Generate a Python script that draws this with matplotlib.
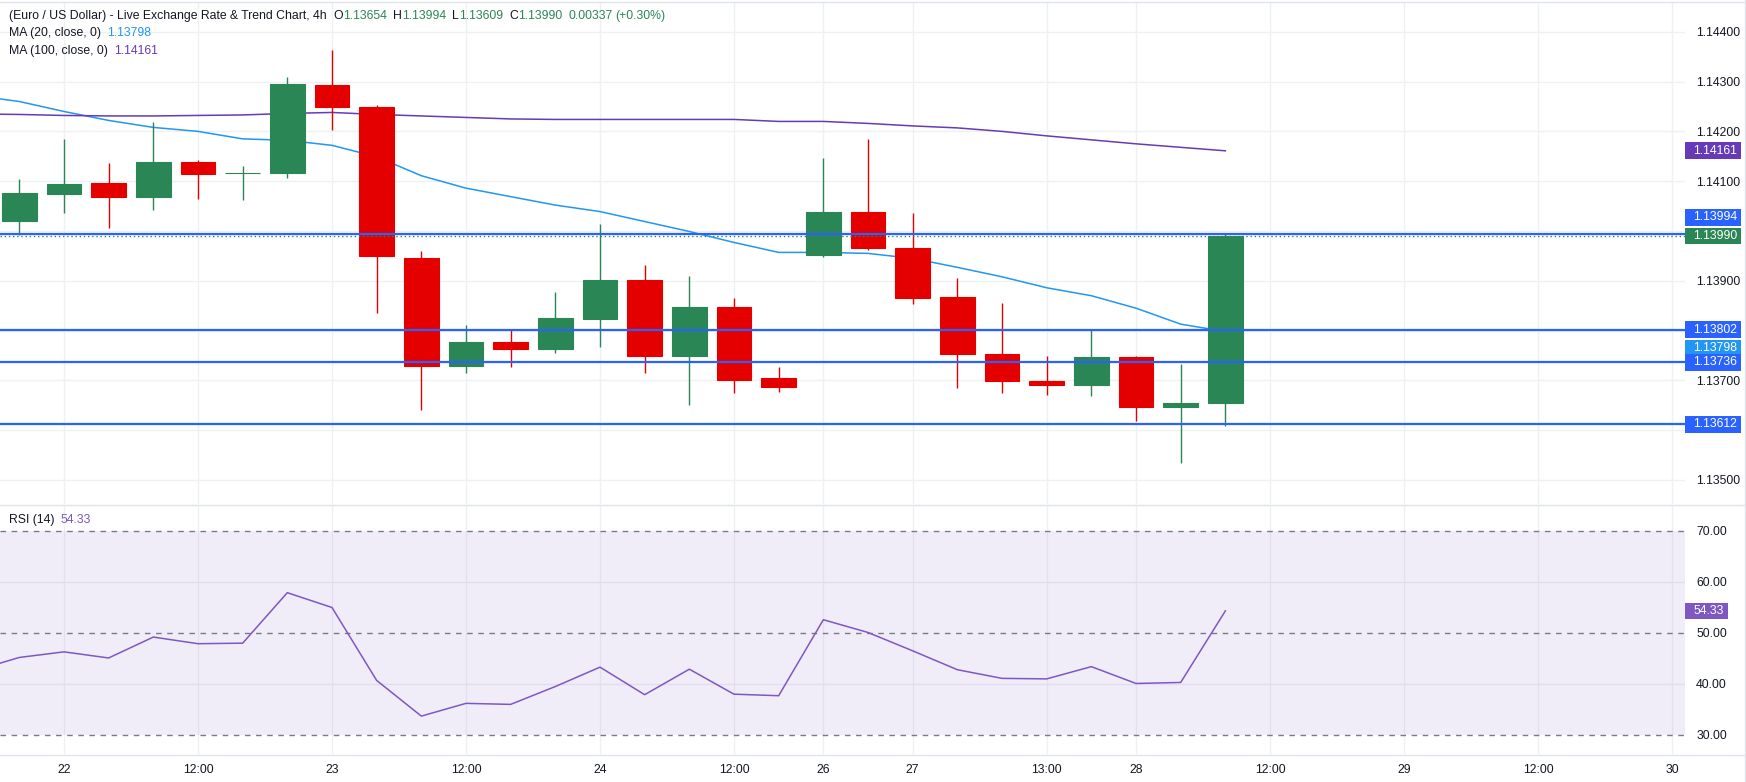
import numpy as np
import matplotlib
matplotlib.use("Agg")
import matplotlib.pyplot as plt
from matplotlib.patches import Rectangle
from matplotlib.lines import Line2D

plt.rcParams['font.family'] = ['Liberation Sans', 'DejaVu Sans']

# ---- data ------------------------------------------------------------------
opens  = [1.14021, 1.14075, 1.14096, 1.14069, 1.14139, 1.14116, 1.14117, 1.14293, 1.14249, 1.13946,
          1.13728, 1.13777, 1.13764, 1.13824, 1.13902, 1.13748, 1.13847, 1.13705, 1.13951, 1.14038,
          1.13966, 1.13868, 1.13753, 1.13699, 1.13691, 1.13747, 1.13647, 1.13654]
highs  = [1.14104, 1.14185, 1.14137, 1.14219, 1.14143, 1.14131, 1.14309, 1.14364, 1.14253, 1.13960,
          1.13811, 1.13804, 1.13878, 1.14014, 1.13932, 1.13910, 1.13866, 1.13727, 1.14147, 1.14185,
          1.14036, 1.13906, 1.13855, 1.13749, 1.13803, 1.13748, 1.13733, 1.13994]
lows   = [1.13992, 1.14037, 1.14007, 1.14043, 1.14065, 1.14063, 1.14107, 1.14202, 1.13836, 1.13641,
          1.13714, 1.13726, 1.13754, 1.13768, 1.13714, 1.13651, 1.13675, 1.13677, 1.13948, 1.13962,
          1.13854, 1.13685, 1.13675, 1.13671, 1.13669, 1.13619, 1.13535, 1.13609]
closes = [1.14076, 1.14094, 1.14069, 1.14139, 1.14115, 1.14117, 1.14295, 1.14248, 1.13949, 1.13728,
          1.13777, 1.13764, 1.13825, 1.13902, 1.13748, 1.13847, 1.13700, 1.13687, 1.14038, 1.13965,
          1.13866, 1.13752, 1.13698, 1.13691, 1.13747, 1.13647, 1.13655, 1.13990]

# indicator values start one bar before the first visible candle (index -1)
ma20  = [1.14272, 1.14260, 1.14240, 1.14222, 1.14208, 1.14200, 1.14185, 1.14182, 1.14172, 1.14149,
         1.14111, 1.14086, 1.14069, 1.14052, 1.14039, 1.14019, 1.13999, 1.13977, 1.13957, 1.13957,
         1.13955, 1.13945, 1.13927, 1.13908, 1.13886, 1.13870, 1.13845, 1.13813, 1.13798]
ma100 = [1.14235, 1.14234, 1.14232, 1.14231, 1.14231, 1.14232, 1.14233, 1.14236, 1.14238, 1.14234,
         1.14231, 1.14228, 1.14225, 1.14224, 1.14224, 1.14224, 1.14224, 1.14224, 1.14220, 1.14220,
         1.14216, 1.14211, 1.14207, 1.14200, 1.14191, 1.14183, 1.14175, 1.14168, 1.14161]
rsi   = [42.6, 45.2, 46.3, 45.1, 49.2, 47.9, 48.0, 57.9, 55.0, 40.7, 33.7, 36.2, 36.0, 39.5, 43.3,
         37.9, 42.9, 38.0, 37.7, 52.6, 50.1, 46.5, 42.8, 41.1, 41.0, 43.4, 40.1, 40.3, 54.33]

levels       = [1.13994, 1.13802, 1.13736, 1.13612]
last_close   = 1.13990
price_grid   = [1.135, 1.136, 1.137, 1.138, 1.139, 1.140, 1.141, 1.142, 1.143, 1.144]
price_ticks  = [1.135, 1.137, 1.139, 1.141, 1.142, 1.143, 1.144]   # the rest sit under badges
rsi_ticks    = [30, 40, 50, 60, 70]
xtick_pos    = [1, 4, 7, 10, 13, 16, 18, 20, 23, 25, 28, 31, 34, 37]
xtick_labels = ['22', '12:00', '23', '12:00', '24', '12:00', '26', '27', '13:00', '28',
                '12:00', '29', '12:00', '30']

# ---- styles -----------------------------------------------------------------
GREEN, RED = '#2b8656', '#e50000'
BLUE, LBLUE, PURPLE, RSICOL = '#2962ff', '#2196f3', '#673ab7', '#7e57c2'
DARK, GRID = '#131722', '#eef0f4'
W, H = 1746, 782

fig = plt.figure(figsize=(W / 100, H / 100), dpi=100)
fig.patch.set_facecolor('white')

ax = fig.add_axes([0, 1 - 504 / H, 1685 / W, 502 / H])
ax2 = fig.add_axes([0, 1 - 754 / H, 1685 / W, 248 / H])
XL = (-0.432, 37.29)

for a in (ax, ax2):
    a.set_xlim(*XL)
    for s in a.spines.values():
        s.set_visible(False)
    a.yaxis.tick_right()
    a.tick_params(axis='y', length=0, pad=8, labelsize=8.8, labelcolor=DARK)
    for xp in xtick_pos:
        a.axvline(xp, color=GRID, lw=1, zorder=0)

# ---- price pane ---------------------------------------------------------------
ax.set_ylim(1.134518, 1.144598)
ax.set_yticks(price_ticks)
ax.set_yticklabels([f'{v:.5f}' for v in price_ticks])
ax.set_xticks([])
for v in price_grid:
    ax.axhline(v, color=GRID, lw=1, zorder=0)

idx = np.arange(len(opens))
o, h, l, c = map(np.array, (opens, highs, lows, closes))
cols = np.where(c >= o, GREEN, RED)
ax.vlines(idx, l, h, colors=cols, lw=1.0, zorder=3)
ax.bar(idx, np.abs(c - o), bottom=np.minimum(o, c), width=0.78, color=cols,
       edgecolor=cols, linewidth=0.8, zorder=4)

ind_x = np.arange(-1, len(opens))
ax.plot(ind_x, ma20, color=LBLUE, lw=1.1, zorder=2)
ax.plot(ind_x, ma100, color=PURPLE, lw=1.1, zorder=2)

for v in levels:
    ax.axhline(v, color=BLUE, lw=1.6, zorder=5)
ax.axhline(last_close, color=GREEN, lw=1.0, ls=(0, (1, 2)), zorder=5)

# ---- RSI pane -----------------------------------------------------------------
ax2.set_ylim(26.27, 74.9)
ax2.set_yticks(rsi_ticks)
ax2.set_yticklabels([f'{v:.2f}' for v in rsi_ticks])
ax2.axhspan(30, 70, color=RSICOL, alpha=0.1, lw=0, zorder=0)
for v in (40, 60):
    ax2.axhline(v, color='#e2ddee', lw=1, zorder=1)
for v in (30, 50, 70):
    ax2.axhline(v, color='#787b86', lw=1, ls=(0, (4, 4)), zorder=2)
ax2.plot(ind_x, rsi, color=RSICOL, lw=1.1, zorder=3)
ax2.set_xticks(xtick_pos)
ax2.set_xticklabels(xtick_labels)
ax2.tick_params(axis='x', length=0, pad=7, labelsize=8.8, labelcolor=DARK)

# ---- separators ---------------------------------------------------------------
for yy in (1.5, 505, 755):
    fig.add_artist(Line2D([0, 1], [1 - yy / H] * 2, transform=fig.transFigure,
                          color='#e0e3eb', lw=1))
fig.add_artist(Line2D([1 - 1.5 / W] * 2, [0, 1], transform=fig.transFigure,
                      color='#e0e3eb', lw=1))


# ---- price-axis badges ----------------------------------------------------------
def badge(a, value, text, color, shift=0.0, width=56):
    yd = a.transData.transform((0, value))[1] + shift
    bh = 16.7
    fig.add_artist(Rectangle((1685 / W, (yd - bh / 2) / H), width / W, bh / H,
                             transform=fig.transFigure, color=color, lw=0, zorder=3))
    fig.text(1693 / W, yd / H, text, color='white', fontsize=8.8, va='center',
             ha='left', zorder=4)


badge(ax, 1.14161, '1.14161', PURPLE)
badge(ax, 1.13994, '1.13994', BLUE, shift=16.7)
badge(ax, 1.13990, '1.13990', GREEN)
badge(ax, 1.13802, '1.13802', BLUE)
badge(ax, 1.13798, '1.13798', LBLUE, shift=-16.7)
badge(ax, 1.13736, '1.13736', BLUE)
badge(ax, 1.13612, '1.13612', BLUE)
badge(ax2, 54.33, '54.33', RSICOL, width=43)

# ---- legend rows ------------------------------------------------------------------
renderer = fig.canvas.get_renderer()


def put_row(pieces, x0, y0, size=8.8):
    x = x0
    for s, col, gap in pieces:
        x += gap
        t = fig.text(x / W, 1 - y0 / H, s, color=col, fontsize=size, va='center', ha='left')
        x += t.get_window_extent(renderer).width


put_row([('(Euro / US Dollar) - Live Exchange Rate & Trend Chart, 4h', DARK, 0),
         ('O', DARK, 7), ('1.13654', GREEN, 0),
         ('H', DARK, 6), ('1.13994', GREEN, 0),
         ('L', DARK, 6), ('1.13609', GREEN, 0),
         ('C', DARK, 6), ('1.13990', GREEN, 0),
         ('0.00337', GREEN, 6), ('(+0.30%)', GREEN, 3)], 9, 15.7)
put_row([('MA (20, close, 0)', DARK, 0), ('1.13798', LBLUE, 6)], 9, 33.4)
put_row([('MA (100, close, 0)', DARK, 0), ('1.14161', PURPLE, 6)], 9, 51)
put_row([('RSI (14)', DARK, 0), ('54.33', RSICOL, 6)], 9, 520)

fig.savefig('out.png', dpi=100, facecolor='white')
